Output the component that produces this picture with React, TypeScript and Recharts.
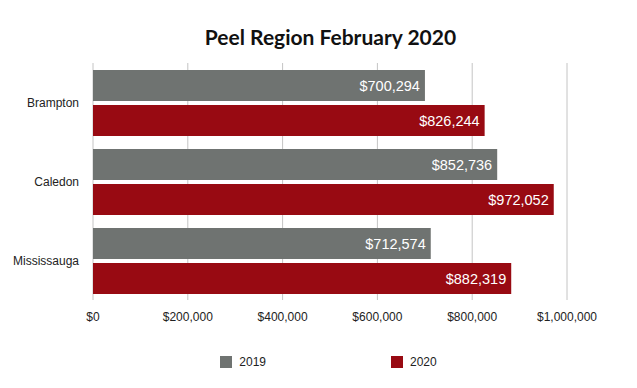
import { BarChart, Bar, XAxis, YAxis, CartesianGrid, LabelList, Legend } from 'recharts'

// page reset so the chart sits at 0,0 like the reference
document.body.style.margin = '0'

const cities = ['Brampton', 'Caledon', 'Mississauga']
const prices2019 = [700294, 852736, 712574]
const prices2020 = [826244, 972052, 882319]
const xTicks = [0, 200000, 400000, 600000, 800000, 1000000]

const GREY = '#6f7371'
const RED = '#980a12'
const FONT = '"Liberation Sans", Arial, sans-serif'

const data = cities.map((name, i) => ({
  name,
  y2019: prices2019[i],
  y2020: prices2020[i],
}))

const formatMoney = (v: number) => `$${v.toLocaleString('en-US')}`

const LegendContent = () => {
  const items = [
    { label: '2019', color: GREY },
    { label: '2020', color: RED },
  ]
  return (
    <div
      style={{
        display: 'flex',
        justifyContent: 'center',
        gap: 125,
        height: 20,
        alignItems: 'center',
        paddingLeft: 90,
        fontFamily: FONT,
        fontSize: 12,
        color: '#222',
      }}
    >
      {items.map((it) => (
        <div key={it.label} style={{ display: 'flex', alignItems: 'center' }}>
          <span style={{ width: 12, height: 12, background: it.color, display: 'inline-block', marginRight: 7 }} />
          <span>{it.label}</span>
        </div>
      ))}
    </div>
  )
}

export default function App() {
  return (
    <div style={{ position: 'relative', width: 637, height: 388, background: '#fff' }}>
      <div
        style={{
          position: 'absolute',
          top: 24,
          left: 0,
          width: 637,
          paddingLeft: 24,
          boxSizing: 'border-box',
          textAlign: 'center',
          fontFamily: 'Lato, sans-serif',
          fontWeight: 700,
          fontSize: 21,
          color: '#111',
          zIndex: 1,
        }}
      >
        Peel Region February 2020
      </div>
      <BarChart
        width={637}
        height={388}
        data={data}
        layout="vertical"
        margin={{ top: 63, right: 70, bottom: 16, left: 0 }}
        barSize={31}
        barGap={4}
      >
        <CartesianGrid horizontal={false} stroke="#c4c4c4" />
        <XAxis
          type="number"
          domain={[0, 1000000]}
          ticks={xTicks}
          tickFormatter={formatMoney}
          axisLine={false}
          tickLine={false}
          tickSize={0}
          tickMargin={12}
          height={52}
          interval={0}
          tick={{ fontSize: 12, fill: '#222', fontFamily: FONT }}
        />
        <YAxis
          type="category"
          dataKey="name"
          width={93}
          axisLine={false}
          tickLine={false}
          tickSize={0}
          tickMargin={14}
          tick={{ fontSize: 12, fill: '#222', fontFamily: FONT }}
        />
        <Legend verticalAlign="bottom" content={<LegendContent />} />
        <Bar dataKey="y2019" name="2019" fill={GREY} isAnimationActive={false}>
          <LabelList
            dataKey="y2019"
            position="insideRight"
            offset={5}
            formatter={(v: any) => formatMoney(Number(v))}
            style={{ fill: '#fff', fontSize: 14.5, fontFamily: FONT }}
          />
        </Bar>
        <Bar dataKey="y2020" name="2020" fill={RED} isAnimationActive={false}>
          <LabelList
            dataKey="y2020"
            position="insideRight"
            offset={5}
            formatter={(v: any) => formatMoney(Number(v))}
            style={{ fill: '#fff', fontSize: 14.5, fontFamily: FONT }}
          />
        </Bar>
      </BarChart>
    </div>
  )
}
